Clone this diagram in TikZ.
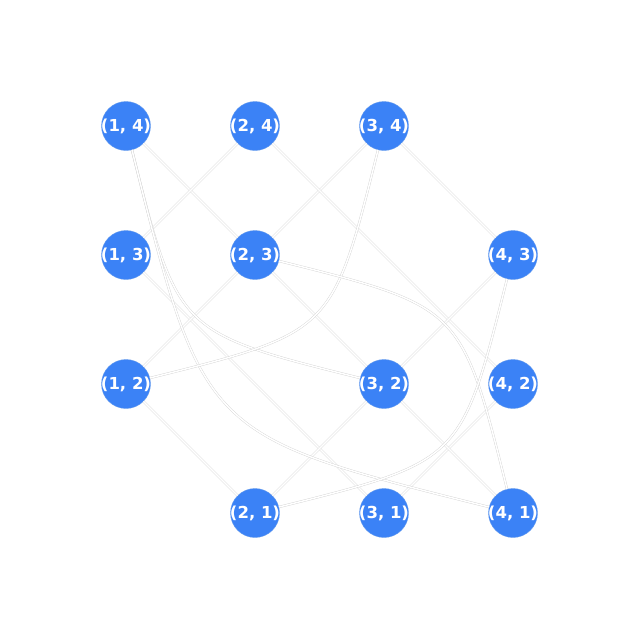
\documentclass[tikz,border=0pt]{standalone}
\usepackage{fontspec}
\setmainfont{DejaVu Sans}
\definecolor{nodeblue}{RGB}{59,130,246}
\definecolor{edgegray}{RGB}{208,208,208}
\tikzset{
  vtx/.style={circle, fill=nodeblue, draw={rgb,255:red,100;green,155;blue,238}, line width=0.4pt, minimum size=49pt, inner sep=0pt, text=white, font=\bfseries\fontsize{16.5}{17}\selectfont},
  edg/.style={draw=edgegray, line width=0.35pt, double=white, double distance=1.5pt}
}
\newcommand{\vlab}[1]{\makebox[0pt]{#1}}
\begin{document}
\begin{tikzpicture}[x=1pt,y=-1pt]
\useasboundingbox[fill=white] (0,0) rectangle (640,640);
% nodes
\node[vtx] (n14) at (126,126) {\vlab{(1, 4)}};
\node[vtx] (n24) at (255,126) {\vlab{(2, 4)}};
\node[vtx] (n34) at (384,126) {\vlab{(3, 4)}};
\node[vtx] (n13) at (126,255) {\vlab{(1, 3)}};
\node[vtx] (n23) at (255,255) {\vlab{(2, 3)}};
\node[vtx] (n43) at (513,255) {\vlab{(4, 3)}};
\node[vtx] (n12) at (126,384) {\vlab{(1, 2)}};
\node[vtx] (n32) at (384,384) {\vlab{(3, 2)}};
\node[vtx] (n42) at (513,384) {\vlab{(4, 2)}};
\node[vtx] (n21) at (255,513) {\vlab{(2, 1)}};
\node[vtx] (n31) at (384,513) {\vlab{(3, 1)}};
\node[vtx] (n41) at (513,513) {\vlab{(4, 1)}};
% control points for arcs
\coordinate (c1) at (177.6,332.4);
\coordinate (c2) at (203.4,435.6);
\coordinate (c3) at (332.4,332.4);
\coordinate (c4) at (461.4,306.6);
\coordinate (c5) at (461.4,461.4);
% straight edges
\draw[edg] (n14) -- (n23);
\draw[edg] (n24) -- (n13);
\draw[edg] (n34) -- (n23);
\draw[edg] (n34) -- (n43);
\draw[edg] (n24) -- (n42);
\draw[edg] (n13) -- (n31);
\draw[edg] (n23) -- (n12);
\draw[edg] (n23) -- (n32);
\draw[edg] (n43) -- (n32);
\draw[edg] (n32) -- (n21);
\draw[edg] (n42) -- (n31);
\draw[edg] (n12) -- (n21);
\draw[edg] (n32) -- (n41);
% curved edges
\draw[edg] (n14) .. controls (c1) .. (n32);
\draw[edg] (n14) .. controls (c2) .. (n41);
\draw[edg] (n34) .. controls (c3) .. (n12);
\draw[edg] (n23) .. controls (c4) .. (n41);
\draw[edg] (n43) .. controls (c5) .. (n21);
\end{tikzpicture}
\end{document}
